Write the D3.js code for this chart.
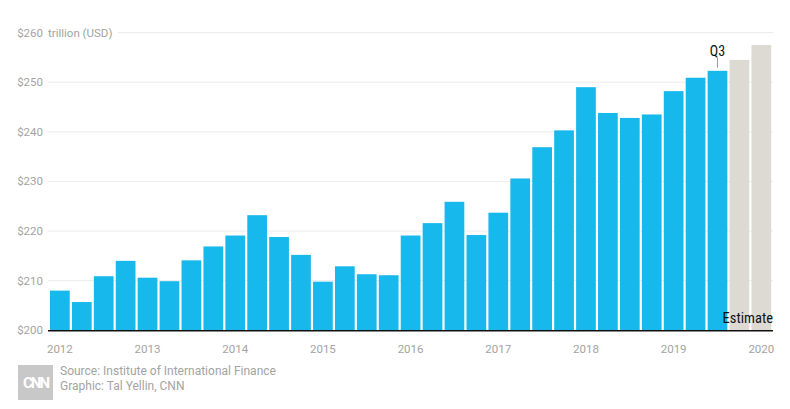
<!DOCTYPE html>
<html><head><meta charset="utf-8">
<script src="https://cdn.jsdelivr.net/npm/d3@7/dist/d3.min.js"></script>
<style>
body{margin:0;background:#fff;}
svg{display:block;font-family:Roboto, "Noto Sans", sans-serif;}
</style></head>
<body><svg id="c" width="790" height="409"></svg>
<script>
const quarters = ["2012 Q1","2012 Q2","2012 Q3","2012 Q4","2013 Q1","2013 Q2","2013 Q3","2013 Q4","2014 Q1","2014 Q2","2014 Q3","2014 Q4","2015 Q1","2015 Q2","2015 Q3","2015 Q4","2016 Q1","2016 Q2","2016 Q3","2016 Q4","2017 Q1","2017 Q2","2017 Q3","2017 Q4","2018 Q1","2018 Q2","2018 Q3","2018 Q4","2019 Q1","2019 Q2","2019 Q3","2019 Q4","2020 Q1"];
const debt = [208.0,205.7,210.9,214.0,210.6,209.9,214.1,216.9,219.1,223.2,218.8,215.2,209.8,212.9,211.3,211.1,219.1,221.6,225.9,219.2,223.7,230.6,236.9,240.3,249.0,243.8,242.8,243.5,248.2,250.9,252.3,254.5,257.5];
const isEstimate = [false,false,false,false,false,false,false,false,false,false,false,false,false,false,false,false,false,false,false,false,false,false,false,false,false,false,false,false,false,false,false,true,true];
const yTicks = [200,210,220,230,240,250,260];
const yearLabels = ["2012","2013","2014","2015","2016","2017","2018","2019","2020"];

const svg = d3.select("#c");
const x = d3.scaleBand().domain(quarters).range([50,771.2]).paddingInner(0.1).paddingOuter(0);
const y = d3.scaleLinear().domain([200,260]).range([330.3,32.6]);

// gridlines
svg.append("g").selectAll("line").data(yTicks.filter(d=>d>200)).join("line")
  .attr("x1", d=> d===260 ? 118 : 48).attr("x2",773)
  .attr("y1", d=>y(d)).attr("y2", d=>y(d))
  .attr("stroke","#ebebeb").attr("stroke-width",1);

// y labels
svg.append("g").selectAll("text").data(yTicks).join("text")
  .attr("x",43).attr("y",d=>y(d)).attr("dy","0.35em").attr("text-anchor","end")
  .attr("fill","#a3a3a3").attr("font-size",11.5).text(d=>"$"+d);
svg.append("text").attr("x",48).attr("y",y(260)).attr("dy","0.35em")
  .attr("fill","#a3a3a3").attr("font-size",11.5).text("trillion (USD)");

// bars
svg.append("g").selectAll("rect").data(quarters).join("rect")
  .attr("x",d=>x(d)).attr("width",x.bandwidth())
  .attr("y",(d,i)=>y(debt[i])).attr("height",(d,i)=>y(200)-y(debt[i]))
  .attr("fill",(d,i)=>isEstimate[i] ? "#dddad4" : "#17b9ec");

// baseline
svg.append("line").attr("x1",48).attr("x2",773).attr("y1",y(200)+0.5).attr("y2",y(200)+0.5)
  .attr("stroke","#111").attr("stroke-width",1.6);

// year labels
svg.append("g").selectAll("text").data(yearLabels).join("text")
  .attr("x",d=>x(d+" Q1")+x.bandwidth()/2).attr("y",349).attr("dy","0.35em")
  .attr("text-anchor","middle").attr("fill","#a3a3a3").attr("font-size",11.5).text(d=>d);

// Q3 annotation
const q3 = "2019 Q3";
const q3x = x(q3)+x.bandwidth()/2;
svg.append("line").attr("x1",q3x).attr("x2",q3x).attr("y1",57.5).attr("y2",y(debt[quarters.indexOf(q3)])-3)
  .attr("stroke","#999").attr("stroke-width",1);
svg.append("text").attr("x",q3x).attr("y",56).attr("text-anchor","middle")
  .attr("fill","#111").attr("font-size",14).attr("font-stretch","condensed").text("Q3");

// Estimate label
svg.append("text").attr("x",773).attr("y",322.5).attr("text-anchor","end")
  .attr("fill","#111").attr("font-size",14.5).attr("font-stretch","condensed")
  .text("Estimate");

// footer logo
const logo = svg.append("g");
logo.append("rect").attr("x",18).attr("y",365).attr("width",35).attr("height",35).attr("fill","#c8c8c8");
logo.append("text").attr("x",35.5).attr("y",383).attr("dy","0.35em").attr("text-anchor","middle")
  .attr("fill","#fff").attr("font-size",15).attr("font-weight",700).attr("letter-spacing",-2).text("CNN");
svg.append("text").attr("x",60).attr("y",371).attr("dy","0.35em").attr("fill","#a3a3a3").attr("font-size",12)
  .text("Source: Institute of International Finance");
svg.append("text").attr("x",60).attr("y",385.5).attr("dy","0.35em").attr("fill","#a3a3a3").attr("font-size",12)
  .text("Graphic: Tal Yellin, CNN");
</script></body></html>
